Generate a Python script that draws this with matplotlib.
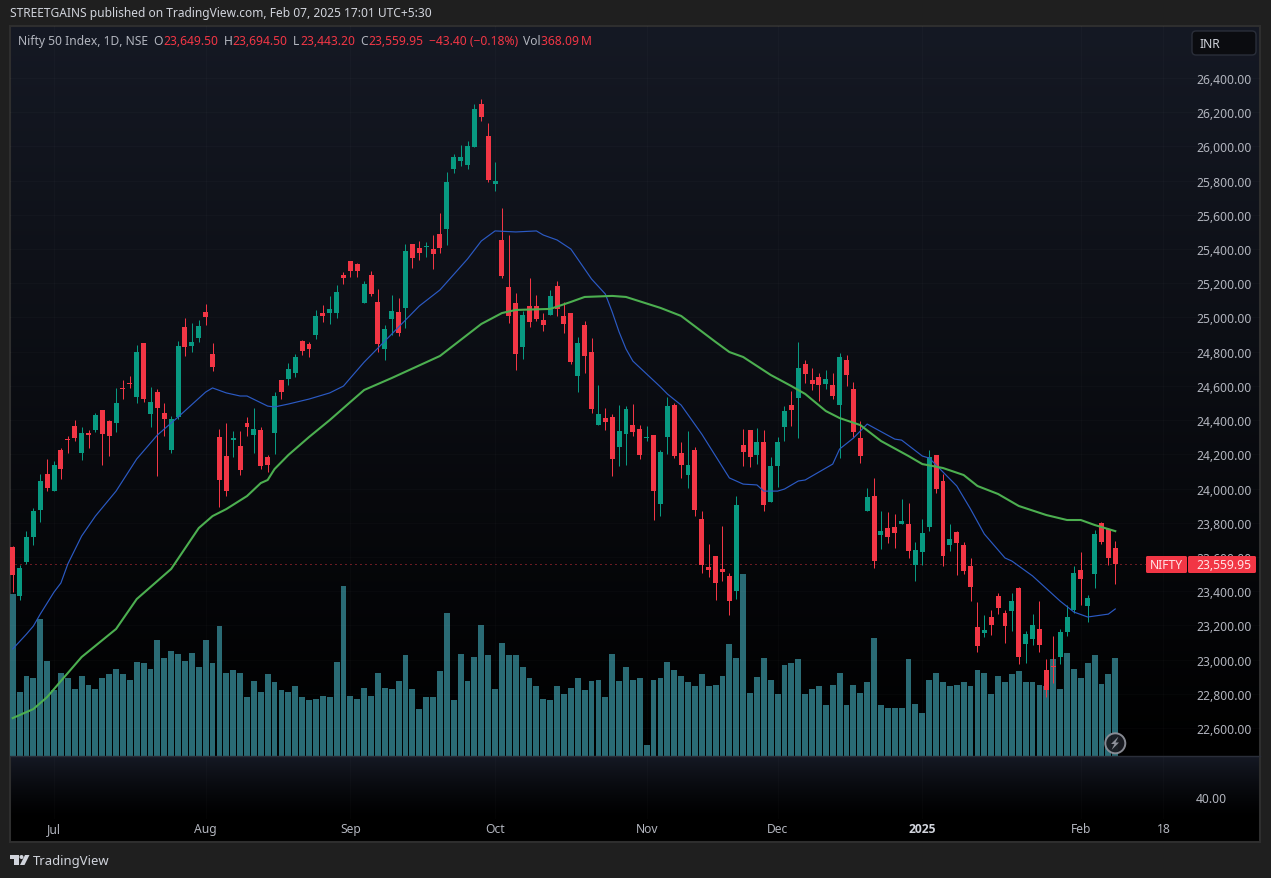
# Nifty 50 daily candles with two moving averages and volume, dark theme
import numpy as np
import matplotlib
matplotlib.use('Agg')
import matplotlib.pyplot as plt
from matplotlib.patches import FancyBboxPatch, Circle, Polygon, Rectangle
from matplotlib.transforms import Affine2D

plt.rcParams['font.family'] = ['Noto Sans', 'DejaVu Sans']

W, H = 1271, 879
RED = '#f23645'
GREEN = '#089981'
VOL_COLOR = '#2a6b75'
TXT = '#b2b5be'
TXT2 = '#d1d4dc'

# daily candles
opens = [23658, 23372, 23570, 23717, 23874, 24085, 23985, 24225, 24289, 24365,
         24208, 24325, 24342, 24459, 24395, 24383, 24588, 24617, 24535, 24851,
         24436, 24564, 24442, 24225, 24418, 24944, 24833, 24880, 25032, 24786,
         24301, 24190, 24283, 24248, 24383, 24313, 24342, 24184, 24325, 24634,
         24640, 24675, 24862, 24845, 24898, 25026, 25026, 25026, 25248, 25330,
         25312, 25085, 25248, 25091, 24816, 24991, 25032, 25056, 25429, 25406,
         25412, 25400, 25488, 25517, 25868, 25915, 25891, 25996, 26248, 26061,
         25781, 25453, 25178, 25085, 24827, 25067, 25067, 24985, 25015, 25184,
         25009, 25026, 24658, 24956, 24798, 24371, 24412, 24418, 24242, 24318,
         24371, 24348, 24295, 24313, 23910, 24301, 24488, 24208, 24079, 24225,
         23822, 23541, 23606, 23530, 23489, 23401, 24254, 24342, 24196, 24272,
         23921, 24132, 24359, 24488, 24529, 24728, 24634, 24652, 24611, 24605,
         24488, 24751, 24582, 24295, 23868, 23956, 23728, 23769, 23775, 23793,
         23793, 23553, 23629, 23775, 24196, 24044, 23670, 23746, 23670, 23547,
         23190, 23155, 23249, 23372, 23272, 23284, 23418, 23091, 23120, 23179,
         22939, 22962, 23015, 23161, 23290, 23524, 23313, 23501, 23798, 23763,
         23649.50]
highs = [23664, 23553, 23751, 23886, 24085, 24173, 24161, 24237, 24307, 24400,
         24359, 24342, 24442, 24459, 24400, 24588, 24634, 24658, 24839, 24851,
         24594, 24582, 24500, 24424, 24862, 24997, 24968, 24985, 25079, 24851,
         24348, 24383, 24336, 24336, 24418, 24471, 24359, 24196, 24564, 24634,
         24733, 24786, 24868, 24857, 25044, 25073, 25126, 25190, 25266, 25330,
         25318, 25213, 25272, 25167, 24956, 25132, 25114, 25429, 25429, 25447,
         25441, 25482, 25611, 25851, 25956, 26008, 26031, 26248, 26277, 26137,
         25909, 25640, 25482, 25143, 25038, 25231, 25132, 25026, 25161, 25213,
         25091, 25026, 24886, 24980, 24880, 24605, 24471, 24436, 24488, 24482,
         24494, 24371, 24365, 24313, 24225, 24535, 24500, 24272, 24336, 24243,
         23868, 23676, 23606, 23781, 23506, 23956, 24348, 24342, 24354, 24342,
         24184, 24301, 24482, 24570, 24857, 24751, 24705, 24675, 24693, 24675,
         24792, 24781, 24623, 24395, 24003, 24062, 23868, 23863, 23851, 23939,
         23915, 23687, 23822, 24225, 24196, 24085, 23793, 23751, 23687, 23594,
         23337, 23261, 23290, 23389, 23290, 23389, 23424, 23167, 23266, 23342,
         23003, 23137, 23179, 23319, 23547, 23629, 23378, 23757, 23804, 23769,
         23694.50]
lows = [23395, 23348, 23559, 23670, 23804, 23985, 23985, 24056, 24208, 24277,
        24167, 24237, 24330, 24137, 24190, 24330, 24523, 24588, 24500, 24506,
        24359, 24073, 24307, 24208, 24406, 24775, 24798, 24857, 24956, 24687,
        23892, 23956, 24184, 24079, 24307, 24208, 24114, 24097, 24202, 24523,
        24605, 24652, 24781, 24769, 24874, 24974, 24962, 24997, 25196, 25237,
        25237, 25085, 25126, 24798, 24751, 24898, 24892, 24939, 25289, 25336,
        25353, 25283, 25377, 25424, 25845, 25886, 25868, 25996, 26148, 25792,
        25740, 25231, 24968, 24693, 24757, 24944, 24980, 24921, 25015, 25009,
        24909, 24728, 24564, 24675, 24442, 24371, 24342, 24073, 24132, 24137,
        24307, 24173, 24277, 23816, 23839, 24202, 24178, 24062, 24003, 23839,
        23506, 23483, 23348, 23459, 23261, 23354, 24132, 24126, 24143, 23868,
        23921, 24009, 24277, 24365, 24295, 24617, 24576, 24512, 24582, 24523,
        24178, 24599, 24301, 24149, 23868, 23536, 23646, 23681, 23652, 23793,
        23594, 23459, 23553, 23751, 23974, 23547, 23635, 23495, 23501, 23342,
        23044, 23132, 23143, 23266, 23097, 23167, 22974, 22980, 23085, 23044,
        22781, 22863, 22974, 23137, 23272, 23319, 23220, 23419, 23676, 23553,
        23443.20]
closes = [23495, 23536, 23717, 23868, 24044, 24003, 24137, 24114, 24283, 24295,
          24325, 24313, 24430, 24318, 24307, 24500, 24582, 24611, 24798, 24523,
          24506, 24471, 24406, 24406, 24833, 24827, 24857, 24950, 25003, 24710,
          24050, 23985, 24295, 24108, 24359, 24348, 24132, 24137, 24541, 24564,
          24699, 24769, 24804, 24816, 25009, 25009, 25050, 25149, 25231, 25272,
          25272, 25196, 25137, 24845, 24933, 25038, 24909, 25388, 25348, 25377,
          25418, 25371, 25406, 25792, 25938, 25938, 26002, 26219, 26172, 25804,
          25798, 25242, 25009, 24786, 25015, 24974, 24991, 24956, 25126, 25050,
          24962, 24739, 24851, 24775, 24465, 24436, 24389, 24173, 24336, 24465,
          24330, 24196, 24301, 23985, 24213, 24482, 24190, 24137, 24137, 23874,
          23553, 23524, 23448, 23512, 23342, 23904, 24213, 24184, 24272, 23904,
          24132, 24272, 24453, 24459, 24705, 24669, 24611, 24605, 24640, 24541,
          24769, 24663, 24330, 24190, 23950, 23576, 23751, 23717, 23740, 23810,
          23635, 23641, 23740, 24184, 23997, 23606, 23705, 23681, 23518, 23424,
          23079, 23173, 23202, 23302, 23196, 23342, 23015, 23149, 23202, 23085,
          22822, 22956, 23161, 23249, 23506, 23471, 23360, 23734, 23687, 23594,
          23559.95]

# volume in millions
volumes = [607, 241, 301, 290, 514, 357, 245, 312, 290, 252,
           301, 267, 252, 293, 308, 327, 308, 286, 353, 346,
           327, 435, 368, 391, 383, 357, 387, 334, 432, 346,
           488, 312, 320, 312, 219, 282, 241, 305, 275, 245,
           241, 260, 222, 211, 215, 226, 222, 353, 637, 226,
           215, 256, 226, 312, 256, 252, 282, 379, 252, 174,
           219, 219, 316, 533, 211, 383, 282, 372, 491, 376,
           249, 424, 376, 376, 334, 293, 263, 215, 211, 260,
           230, 256, 293, 245, 282, 286, 219, 383, 282, 334,
           286, 290, 43, 286, 290, 353, 323, 301, 275, 260,
           305, 260, 267, 301, 420, 368, 682, 234, 297, 368,
           286, 230, 342, 349, 361, 230, 252, 263, 189, 267,
           312, 192, 267, 237, 275, 443, 192, 181, 181, 181,
           364, 196, 159, 286, 312, 278, 263, 267, 275, 263,
           320, 312, 230, 301, 275, 305, 316, 278, 278, 267,
           260, 364, 252, 387, 327, 290, 349, 379, 271, 308,
           368.09]

# moving averages at these bars
blue_bars = [0, 2, 3, 4, 6, 7, 8, 10, 12, 15, 18, 21, 24, 28, 29, 31, 33, 34, 37, 38,
             40, 43, 46, 48, 49, 51, 55, 59, 62, 66, 68, 70, 73, 76, 77, 79, 81, 84,
             86, 87, 88, 89, 90, 94, 95, 97, 100, 102, 104, 106, 108, 109, 111, 112,
             114, 115, 119, 120, 122, 124, 128, 129, 132, 133, 137, 139, 141, 144,
             145, 148, 152, 154, 156, 159, 160]
blue_vals = [23062, 23149, 23196, 23266, 23395, 23448, 23559, 23722, 23839, 23985,
             24173, 24313, 24418, 24564, 24588, 24559, 24541, 24541, 24482, 24477,
             24494, 24523, 24559, 24599, 24646, 24739, 24903, 25067, 25161, 25342,
             25447, 25506, 25500, 25506, 25482, 25453, 25400, 25225, 25137, 25032,
             24915, 24816, 24745, 24594, 24553, 24488, 24318, 24190, 24062, 24026,
             24021, 23985, 23985, 23997, 24044, 24050, 24143, 24231, 24295, 24377,
             24289, 24283, 24190, 24178, 24015, 23880, 23734, 23594, 23576, 23489,
             23342, 23278, 23249, 23266, 23296]
green_bars = [0, 3, 5, 7, 10, 15, 18, 23, 27, 29, 31, 34, 36, 37, 38, 40, 43, 46, 49,
              51, 53, 55, 62, 68, 71, 73, 78, 81, 83, 87, 89, 94, 97, 102, 104, 106,
              110, 113, 115, 118, 120, 123, 126, 130, 132, 135, 138, 140, 143, 146,
              150, 153, 155, 157, 160]
green_vals = [22658, 22711, 22781, 22875, 23015, 23179, 23354, 23530, 23769, 23839,
              23880, 23956, 24032, 24050, 24114, 24196, 24301, 24400, 24506, 24576,
              24611, 24646, 24775, 24962, 25026, 25044, 25050, 25091, 25120, 25126,
              25120, 25056, 25009, 24857, 24798, 24769, 24664, 24599, 24553, 24453,
              24412, 24371, 24278, 24190, 24143, 24120, 24079, 24015, 23968, 23898,
              23845, 23816, 23816, 23787, 23751]

price_ticks = list(range(22600, 26401, 200))
month_bars = [6, 28, 49, 70, 92, 111, 132, 155, 167]
month_labels = ['Jul', 'Aug', 'Sep', 'Oct', 'Nov', 'Dec', '2025', 'Feb', '18']
last_close = closes[-1]

# pixel geometry of the panes
LEFT, RIGHT = 10, 1260
TOP, MID, BOT, FRAME_BOT = 27, 757, 820, 843
BAR_STEP = 6.891
X0 = 12.7


def pane_rect(y0, y1):
    return [LEFT / W, 1 - y1 / H, (RIGHT - LEFT) / W, (y1 - y0) / H]


fig = plt.figure(figsize=(W / 100, H / 100), dpi=100, facecolor='#1f1f1f')
px = Affine2D().scale(1, -1).translate(0, H)

# background gradients
bg = fig.add_axes([LEFT / W, 1 - FRAME_BOT / H, (RIGHT - LEFT) / W, (FRAME_BOT - TOP) / H], zorder=0)
rows = FRAME_BOT - TOP
shade = np.zeros(rows)
shade[:MID - TOP] = np.linspace(1, 0, MID - TOP)
shade[MID - TOP:BOT - TOP] = np.linspace(1, 0, BOT - MID) ** 1.3
base = np.array([21, 25, 36]) / 255
img = shade[:, None, None] * base[None, None, :]
bg.imshow(img, aspect='auto', interpolation='nearest')
bg.set_xticks([])
bg.set_yticks([])
for sp in bg.spines.values():
    sp.set_color('#2e2e2e')
    sp.set_linewidth(1.5)

# volume sits under the candles on its own scale
xlim = ((LEFT - X0) / BAR_STEP, (RIGHT - X0) / BAR_STEP)
bars = np.arange(len(closes))
ax_vol = fig.add_axes(pane_rect(TOP, MID), zorder=1)
ax_vol.patch.set_visible(False)
ax_vol.bar(bars, volumes, width=0.85, color=VOL_COLOR, linewidth=0)
ax_vol.set_xlim(xlim)
ax_vol.set_ylim(0, (MID + 0.5 - TOP) * 3.737)
ax_vol.axis('off')

ax = fig.add_axes(pane_rect(TOP, MID), zorder=2)
ax.patch.set_visible(False)
for sp in ax.spines.values():
    sp.set_visible(False)

colors = [GREEN if c >= o else RED for o, c in zip(opens, closes)]
ax.vlines(bars, lows, highs, colors=colors, linewidth=0.72, zorder=2, snap=True)
body_low = np.minimum(opens, closes)
body_h = np.maximum(np.abs(np.array(closes) - np.array(opens)), 8)
ax.bar(bars, body_h, bottom=body_low, width=0.72, color=colors, linewidth=0, zorder=3)

ax.plot(blue_bars, blue_vals, color='#2b5ac4', linewidth=0.85, zorder=4)
ax.plot(green_bars, green_vals, color='#4caf50', linewidth=1.5, zorder=4)
ax.axhline(last_close, xmax=(1146 - LEFT) / (RIGHT - LEFT), color=RED, linewidth=0.72,
           linestyle=(0, (1, 4)), alpha=0.85, zorder=1.5, snap=True)

ax.set_xlim(xlim)
ax.set_ylim(26400 - (MID - 79) * 5.846, 26400 + (79 - TOP) * 5.846)
ax.yaxis.tick_right()
ax.set_yticks(price_ticks)
ax.set_yticklabels(['{:,.2f}'.format(p) for p in price_ticks])
ax.tick_params(axis='y', length=0, pad=-46.1, labelsize=8.7, labelcolor=TXT)
ax.set_xticks(month_bars)
ax.tick_params(axis='x', length=0, labelbottom=False)
ax.grid(True, color='#ffffff', alpha=0.018, linewidth=0.8)

# lower empty pane carrying the time axis
ax_low = fig.add_axes(pane_rect(MID, BOT), zorder=2)
ax_low.patch.set_visible(False)
ax_low.set_xlim(xlim)
ax_low.set_ylim(18, 80)
for name, sp in ax_low.spines.items():
    sp.set_visible(name == 'top')
    sp.set_color('#2a2e39')
    sp.set_linewidth(1.0)
ax_low.yaxis.tick_right()
ax_low.set_yticks([40])
ax_low.set_yticklabels(['40.00'])
ax_low.tick_params(axis='y', length=0, pad=-46.1, labelsize=8.7, labelcolor=TXT)
ax_low.set_xticks(month_bars)
ax_low.set_xticklabels(month_labels)
ax_low.tick_params(axis='x', length=0, pad=2.2, labelsize=8.7, labelcolor=TXT)
for lab in ax_low.get_xticklabels():
    if lab.get_text() == '2025':
        lab.set_family(['Open Sans', 'DejaVu Sans'])
        lab.set_fontweight('bold')
        lab.set_color(TXT2)
ax_low.grid(True, axis='x', color='#ffffff', alpha=0.018, linewidth=0.8)


def put(x, y, s, color=TXT2, size=8.7, **kw):
    fig.text(x, y, s, transform=px, color=color, fontsize=size, va='center', zorder=6, **kw)


# header
put(10, 13.5, 'STREETGAINS published on TradingView.com, Feb 07, 2025 17:01 UTC+5:30', size=8.63)
put(18, 41.5, 'Nifty 50 Index, 1D, NSE', color=TXT)
put(153, 41.5, 'O', color=TXT)
put(163, 41.5, '23,649.50', color=RED)
put(224, 41.5, 'H', color=TXT)
put(232, 41.5, '23,694.50', color=RED)
put(293, 41.5, 'L', color=TXT)
put(300, 41.5, '23,443.20', color=RED)
put(360, 41.5, 'C', color=TXT)
put(368, 41.5, '23,559.95', color=RED)
put(429, 41.5, '\u221243.40 (\u22120.18%)', color=RED)
put(523, 41.5, 'Vol', color=TXT)
put(541, 41.5, '368.09\u2009M', color=RED)

# currency button
fig.add_artist(FancyBboxPatch((1192, 32), 64, 24, boxstyle='round,pad=0,rounding_size=4',
                              transform=px, facecolor='#0b0c10', edgecolor='#2a2e39',
                              linewidth=1.0, zorder=5))
put(1200, 44.5, 'INR')

# last price labels
for x0, x1 in [(1146, 1187), (1188, 1256)]:
    fig.add_artist(FancyBboxPatch((x0, 557), x1 - x0, 17, boxstyle='round,pad=0,rounding_size=1.5',
                                  transform=px, facecolor=RED, edgecolor='none', zorder=5))
put(1150, 565.5, 'NIFTY', color='#ffe3e6')
put(1196, 565.5, '23,559.95', color='#ffe3e6')

# lightning badge
fig.add_artist(Circle((1115.3, 744.3), 10, transform=px, facecolor='#1a1c22', edgecolor='#8d9099',
                      linewidth=1.4, alpha=0.95, zorder=5))
fig.add_artist(Polygon([(1118.5, 737.5), (1111, 745), (1114.5, 745), (1111.5, 751),
                        (1119, 743.5), (1115.5, 743.5)], closed=True, transform=px,
                       facecolor='#8d9099', edgecolor='none', zorder=6))

# TradingView logo and name
fig.add_artist(Rectangle((10, 856), 9, 4, transform=px, facecolor=TXT2, edgecolor='none', zorder=5))
fig.add_artist(Rectangle((14, 856), 5, 10, transform=px, facecolor=TXT2, edgecolor='none', zorder=5))
fig.add_artist(Circle((21.5, 858), 2, transform=px, facecolor=TXT2, edgecolor='none', zorder=5))
fig.add_artist(Polygon([(25, 856), (29.5, 856), (24.5, 866), (20, 866)], closed=True, transform=px,
                       facecolor=TXT2, edgecolor='none', zorder=5))
put(33, 861.5, 'TradingView', size=9.4)

fig.savefig('out.png', dpi=100, facecolor=fig.get_facecolor())
